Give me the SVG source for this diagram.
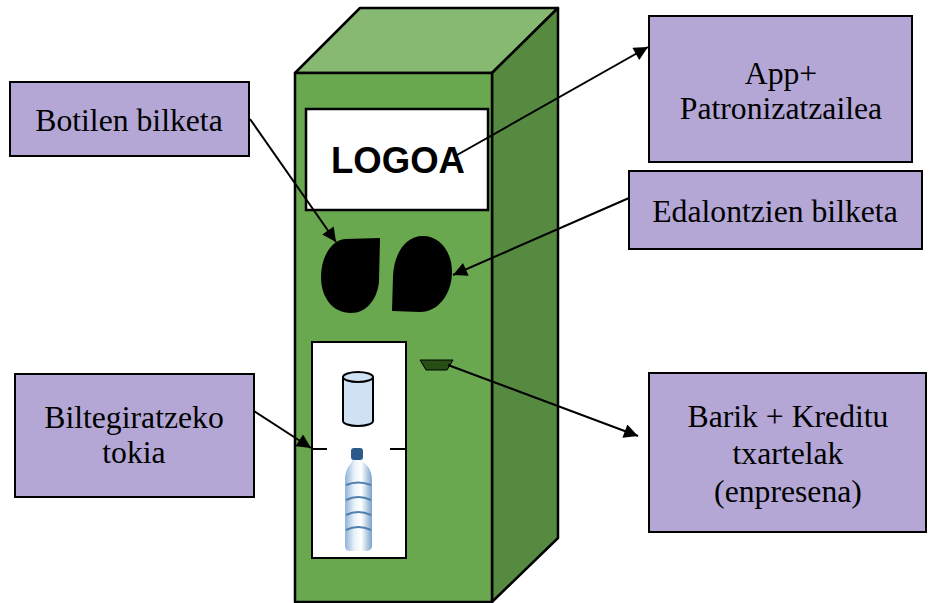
<svg xmlns="http://www.w3.org/2000/svg" width="933" height="603" viewBox="0 0 933 603">
<style>
.lbl{fill:#b4a7d6;stroke:#000;stroke-width:2}
.t{font-family:"Liberation Serif","Times New Roman",serif;font-size:31.7px;fill:#000;text-anchor:middle}
.c{stroke:#000;stroke-width:2;fill:none;marker-end:url(#ah)}
.ed{stroke:#000;stroke-width:2.5;stroke-linejoin:round}
</style>
<defs>
<marker id="ah" viewBox="0 0 10 10" refX="10" refY="5" markerWidth="8" markerHeight="7" markerUnits="strokeWidth" orient="auto">
<path d="M0,0 L10,5 L0,10 Z" fill="#000"/>
</marker>
<linearGradient id="bg" x1="0" y1="0" x2="1" y2="0">
<stop offset="0" stop-color="#8fb3d6"/>
<stop offset="0.35" stop-color="#e9f2fa"/>
<stop offset="0.6" stop-color="#ffffff"/>
<stop offset="1" stop-color="#7aa3c9"/>
</linearGradient>
</defs>
<rect width="933" height="603" fill="#fff"/>
<g id="machine">
<polygon points="295,73 360,8 558,8 492,73" fill="#87b972" class="ed"/>
<polygon points="492,73 558,8 558,538 492,602" fill="#558a40" class="ed"/>
<rect x="295" y="73" width="197" height="529" fill="#6aa84f" class="ed"/>
<rect x="306" y="109" width="182" height="101" fill="#fff" stroke="#000" stroke-width="2.5"/>
<text x="398" y="173" font-family="'Liberation Sans',Arial,sans-serif" font-weight="bold" font-size="36.5" text-anchor="middle">LOGOA</text>
<path d="M345,239 L380,238 L379,282 C377,300 366,313 351,313 C333,313 321,298 321,277 C321,256 332,240 345,239 Z" fill="#000"/>
<path d="M392,311 L393,276 C394,254 405,236 423,236 C440,236 452,252 452,272 C452,294 438,312 420,312 Z" fill="#000"/>
<rect x="312" y="342" width="94" height="216" fill="#fff" stroke="#000" stroke-width="2"/>
<line x1="312" y1="449" x2="327" y2="449" stroke="#000" stroke-width="2"/>
<line x1="390" y1="449" x2="406" y2="449" stroke="#000" stroke-width="2"/>
<path d="M343,377 L343,421 A15,5 0 0 0 373,421 L373,377" fill="#cfe2f3" stroke="#000" stroke-width="2"/>
<ellipse cx="358" cy="377" rx="15" ry="5" fill="#cfe2f3" stroke="#000" stroke-width="2"/>
<g id="bottle">
<path d="M352,452 L363,452 L363,462 C370,467 372,473 372,481 L372,546 C372,549 369,551 366,551 L350,551 C347,551 345,549 345,546 L345,481 C345,473 347,467 352,462 Z" fill="url(#bg)"/>
<rect x="351" y="448" width="12" height="12" rx="3" fill="#2c5a8a"/>
<path d="M346,485 Q358,480 371,485 M346,500 Q358,494 371,500 M346,515 Q358,509 371,515 M346,530 Q358,524 371,530" stroke="#4f7faf" stroke-width="2" fill="none"/>
</g>
<polygon points="420,360 453,360 447,370 426,370" fill="#274e13" stroke="#000" stroke-width="1"/>
</g>
<g id="connectors">
<line class="c" x1="250" y1="119" x2="336" y2="242"/>
<line class="c" x1="457" y1="155" x2="648" y2="47"/>
<line class="c" x1="629" y1="198" x2="453" y2="275"/>
<line class="c" x1="254" y1="411" x2="311" y2="448"/>
<line class="c" x1="448" y1="365" x2="638" y2="436"/>
</g>
<g id="n-botilen">
<rect class="lbl" x="10" y="82" width="239" height="74"/>
<text class="t" x="129" y="131">Botilen bilketa</text>
</g>
<g id="n-biltegi">
<rect class="lbl" x="15" y="374" width="239" height="123"/>
<text class="t" x="134" y="428">Biltegiratzeko</text>
<text class="t" x="134" y="463">tokia</text>
</g>
<g id="n-app">
<rect class="lbl" x="649" y="16" width="263" height="146"/>
<text class="t" x="781" y="84">App+</text>
<text class="t" x="781" y="119">Patronizatzailea</text>
</g>
<g id="n-edal">
<rect class="lbl" x="629" y="171" width="293" height="78"/>
<text class="t" x="775" y="222">Edalontzien bilketa</text>
</g>
<g id="n-barik">
<rect class="lbl" x="649" y="373" width="277" height="159"/>
<text class="t" x="788" y="427">Barik + Kreditu</text>
<text class="t" x="788" y="464">txartelak</text>
<text class="t" x="788" y="502">(enpresena)</text>
</g>
</svg>
